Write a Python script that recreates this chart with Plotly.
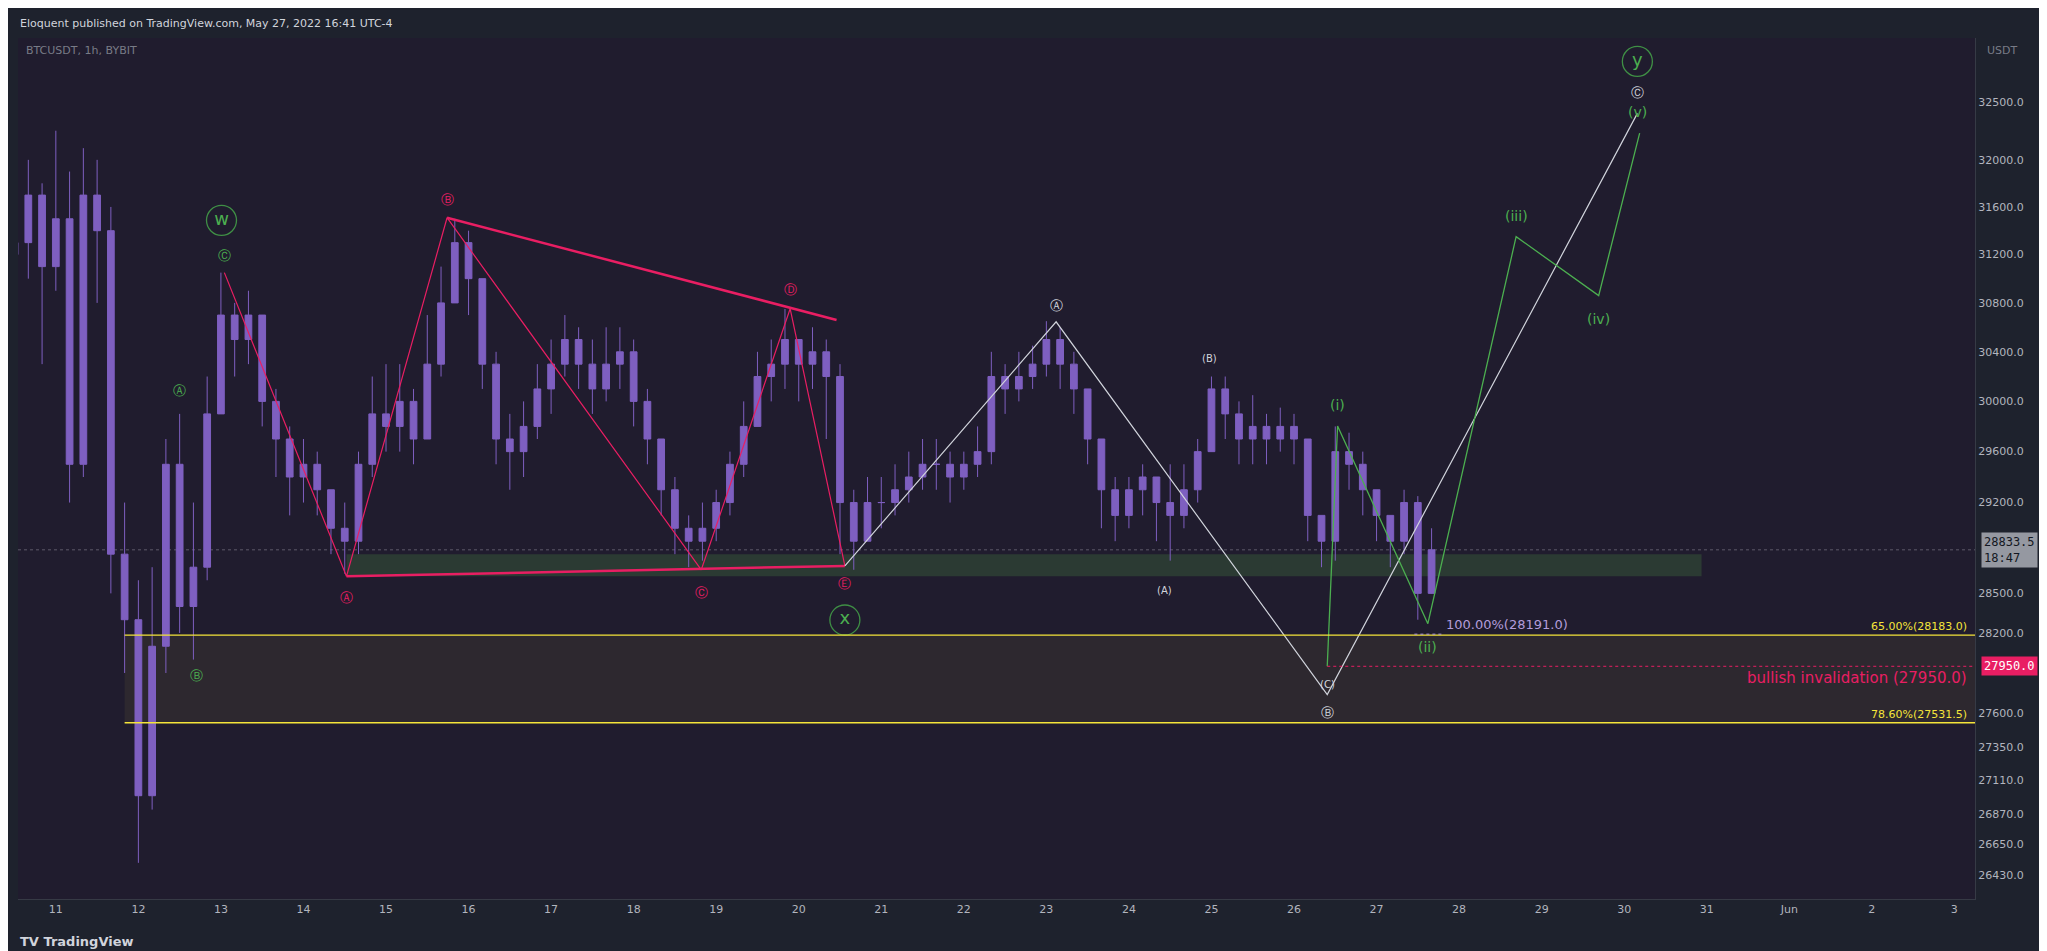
import math

import pandas as pd
import plotly.graph_objects as go

# 4h candles (May 10 12:00 -> May 27 16:00)
START = "2022-05-10 12:00"
closes = [
    31300, 31700, 31100,
    31500, 29500, 31700, 31400, 28800, 28300,
    27000, 28100, 29500, 28400, 28700, 29900,
    30700, 30500, 30700, 30000, 29700, 29400,
    29500, 29300, 29000, 28900, 29500, 29900,
    29800, 30000, 29700, 30300, 30800, 31300,
    31000, 30300, 29700, 29600, 29800, 30100,
    30300, 30500, 30300, 30100, 30300, 30400,
    30000, 29700, 29300, 29000, 28900, 29000,
    29200, 29500, 29800, 30200, 30300, 30500,
    30300, 30400, 30200, 29200, 28900, 29200,
    29200, 29300, 29400, 29500, 29500, 29400,
    29500, 29600, 30200, 30100, 30200, 30300,
    30500, 30300, 30100, 29700, 29300, 29100,
    29300, 29400, 29200, 29100, 29300, 29600,
    30100, 29900, 29700, 29800, 29700, 29800,
    29700, 29100, 28900, 29600, 29500, 29300,
    29100, 28900, 29200, 28500, 28833.5,
]
highs = [
    31900, 32000, 31800,
    32250, 31900, 32100, 32000, 31600, 29200,
    28600, 28700, 29700, 29900, 29200, 30200,
    31050, 30800, 30900, 30700, 30100, 29800,
    29700, 29600, 29300, 29200, 29600, 30200,
    30300, 30300, 30100, 30700, 31100, 31500,
    31400, 31000, 30400, 29900, 30000, 30300,
    30500, 30700, 30600, 30500, 30600, 30600,
    30500, 30100, 29700, 29400, 29100, 29200,
    29300, 29600, 30000, 30400, 30500, 30750,
    30500, 30600, 30500, 30300, 29300, 29400,
    29400, 29500, 29600, 29700, 29700, 29600,
    29600, 29800, 30400, 30300, 30400, 30450,
    30650, 30600, 30400, 30100, 29700, 29400,
    29400, 29500, 29400, 29500, 29500, 29700,
    30200, 30200, 30000, 30050, 29900, 29950,
    29900, 29700, 29100, 29800, 29750, 29600,
    29300, 29100, 29300, 29250, 29000,
]
lows = [
    30900, 31000, 30300,
    30900, 29200, 29400, 30800, 28500, 27900,
    26520, 26900, 27900, 28200, 28000, 28600,
    29900, 30200, 30300, 29800, 29400, 29100,
    29200, 29100, 28800, 28650, 28800, 29400,
    29600, 29600, 29500, 29700, 30200, 30800,
    30700, 30100, 29500, 29300, 29400, 29700,
    29900, 30200, 30100, 29900, 30000, 30100,
    29800, 29500, 29100, 28800, 28700, 28750,
    28900, 29100, 29400, 29800, 30000, 30100,
    30000, 30100, 29700, 28800, 28680, 28900,
    29000, 29100, 29200, 29300, 29300, 29200,
    29300, 29400, 29500, 29900, 30000, 30100,
    30200, 30100, 29900, 29500, 29000, 28900,
    29000, 29100, 28900, 28750, 29000, 29200,
    29600, 29700, 29500, 29500, 29500, 29600,
    29500, 28900, 28700, 28750, 29300, 29100,
    28900, 28700, 28800, 28300, 28800,
]
opens = [31200] + closes[:-1]
times = pd.date_range(START, periods=len(closes), freq="4h")

# wave drawings: (time, price)
pink_zigzag_t = ["2022-05-13 01:00", "2022-05-14 12:30", "2022-05-15 17:45", "2022-05-18 19:40",
                 "2022-05-19 21:30", "2022-05-20 13:25"]
pink_zigzag_p = [31050, 28630, 31509, 28680, 30752, 28710]
pink_upper_t = ["2022-05-15 17:45", "2022-05-20 11:00"]
pink_upper_p = [31509, 30660]
pink_lower_t = ["2022-05-14 12:30", "2022-05-20 13:25"]
pink_lower_p = [28630, 28710]
white_t = ["2022-05-20 13:25", "2022-05-23 02:50", "2022-05-26 09:40", "2022-05-30 03:50"]
white_p = [28710, 30645, 27740, 32400]
green_t = ["2022-05-26 09:40", "2022-05-26 12:40", "2022-05-27 14:55", "2022-05-28 16:35",
           "2022-05-29 16:35", "2022-05-30 04:30"]
green_p = [27950, 29803, 28270, 31350, 30860, 32230]

LAST_PRICE = 28833.5
FIB_65 = 28183.0
FIB_786 = 27531.5
INVALIDATION = 27950.0
ZONE = (28630, 28800)

labels = [
    # text, time, price, color, size
    ("Ⓒ", "2022-05-13 01:00", 31192, "#4caf50", 13),
    ("Ⓐ", "2022-05-12 12:00", 30085, "#4caf50", 13),
    ("Ⓑ", "2022-05-12 17:00", 27878, "#4caf50", 13),
    ("Ⓐ", "2022-05-14 12:30", 28466, "#e91e63", 13),
    ("Ⓑ", "2022-05-15 17:45", 31663, "#e91e63", 13),
    ("Ⓒ", "2022-05-18 19:40", 28505, "#e91e63", 13),
    ("Ⓓ", "2022-05-19 21:30", 30912, "#e91e63", 13),
    ("Ⓔ", "2022-05-20 13:25", 28576, "#e91e63", 13),
    ("Ⓐ", "2022-05-23 02:50", 30775, "#d1d4dc", 13),
    ("(B)", "2022-05-24 23:30", 30347, "#d1d4dc", 10),
    ("(A)", "2022-05-24 10:20", 28525, "#d1d4dc", 10),
    ("(C)", "2022-05-26 09:40", 27818, "#d1d4dc", 10),
    ("Ⓑ", "2022-05-26 09:40", 27605, "#d1d4dc", 13),
    ("Ⓒ", "2022-05-30 03:50", 32578, "#d1d4dc", 13),
    ("(i)", "2022-05-26 12:40", 29969, "#4caf50", 14),
    ("(ii)", "2022-05-27 14:55", 28093, "#4caf50", 14),
    ("(iii)", "2022-05-28 16:35", 31520, "#4caf50", 14),
    ("(iv)", "2022-05-29 16:35", 30665, "#4caf50", 14),
    ("(v)", "2022-05-30 03:50", 32410, "#4caf50", 14),
]
big_t = ["2022-05-13 00:10", "2022-05-20 13:25", "2022-05-30 03:50"]
big_p = [31487, 28298, 32853]
big_text = ["w", "x", "y"]

day_ticks = pd.date_range("2022-05-11", "2022-06-03", freq="D")
day_text = [("Jun" if d.day == 1 else str(d.day)) for d in day_ticks]
price_ticks = [26430, 26650, 26870, 27110, 27350, 27600, 28200, 28500, 29200, 29600,
               30000, 30400, 30800, 31200, 31600, 32000, 32500]

X0, X1 = pd.Timestamp("2022-05-10 13:00"), pd.Timestamp("2022-06-03 06:00")
Y0, Y1 = 26265, 33059

fig = go.Figure()

# zones
fig.add_shape(type="rect", x0="2022-05-14 12:30", x1="2022-05-30 22:30", y0=ZONE[0], y1=ZONE[1],
              fillcolor="#2b3a33", line_width=0, layer="below")
fig.add_shape(type="rect", x0="2022-05-11 20:00", x1=X1, y0=FIB_786, y1=FIB_65,
              fillcolor="#2d282f", line_width=0, layer="below")
for lvl in [FIB_65, FIB_786]:
    fig.add_shape(type="line", x0="2022-05-11 20:00", x1=X1, y0=lvl, y1=lvl,
                  line=dict(color="#f5e53a", width=1.3))
fig.add_shape(type="line", x0=X0, x1=X1, y0=LAST_PRICE, y1=LAST_PRICE,
              line=dict(color="#5d5a6a", width=1, dash="dot"), layer="below")
fig.add_shape(type="line", x0="2022-05-26 09:40", x1=X1, y0=INVALIDATION, y1=INVALIDATION,
              line=dict(color="#e91e63", width=1, dash="dot"))
fig.add_shape(type="line", x0="2022-05-27 11:00", x1="2022-05-27 19:00", y0=28191, y1=28191,
              line=dict(color="#b39ddb", width=1, dash="dot"))

fig.add_trace(go.Candlestick(
    x=times, open=opens, high=highs, low=lows, close=closes,
    increasing=dict(line=dict(color="#7e5fc0", width=1), fillcolor="#7e5fc0"),
    decreasing=dict(line=dict(color="#7e5fc0", width=1), fillcolor="#7e5fc0"),
    whiskerwidth=0, showlegend=False, hoverinfo="skip",
))

fig.add_trace(go.Scatter(x=pink_zigzag_t, y=pink_zigzag_p, mode="lines",
                         line=dict(color="#e91e63", width=1.2), showlegend=False))
fig.add_trace(go.Scatter(x=pink_upper_t, y=pink_upper_p, mode="lines",
                         line=dict(color="#e91e63", width=2.5), showlegend=False))
fig.add_trace(go.Scatter(x=pink_lower_t, y=pink_lower_p, mode="lines",
                         line=dict(color="#e91e63", width=2.5), showlegend=False))
fig.add_trace(go.Scatter(x=white_t, y=white_p, mode="lines",
                         line=dict(color="#d1d4dc", width=1.2), showlegend=False))
fig.add_trace(go.Scatter(x=green_t, y=green_p, mode="lines",
                         line=dict(color="#4caf50", width=1.3), showlegend=False))
fig.add_trace(go.Scatter(x=big_t, y=big_p, mode="markers+text", text=big_text,
                         textfont=dict(color="#4caf50", size=18, family="DejaVu Sans"),
                         marker=dict(symbol="circle-open", size=30, color="#3f8f45", line=dict(width=1.3)),
                         showlegend=False))

for txt, t, p, col, sz in labels:
    fig.add_annotation(x=t, y=math.log10(p), text=txt, showarrow=False,
                       font=dict(color=col, size=sz, family="DejaVu Sans"))

fig.add_annotation(x="2022-05-27 19:30", y=math.log10(28191), text="100.00%(28191.0)", showarrow=False,
                   xanchor="left", yanchor="bottom", font=dict(color="#b39ddb", size=13, family="DejaVu Sans"))
fig.add_annotation(xref="paper", x=0.997, y=math.log10(FIB_65), text="65.00%(28183.0)", showarrow=False,
                   xanchor="right", yanchor="bottom", font=dict(color="#f5e53a", size=11, family="DejaVu Sans"))
fig.add_annotation(xref="paper", x=0.997, y=math.log10(FIB_786), text="78.60%(27531.5)", showarrow=False,
                   xanchor="right", yanchor="bottom", font=dict(color="#f5e53a", size=11, family="DejaVu Sans"))
fig.add_annotation(xref="paper", x=0.997, y=math.log10(27860), text="bullish invalidation (27950.0)",
                   showarrow=False, xanchor="right",
                   font=dict(color="#e91e63", size=15, family="DejaVu Sans"))
fig.add_annotation(xref="paper", x=1.003, y=math.log10(LAST_PRICE), text="28833.5<br>18:47", showarrow=False,
                   xanchor="left", align="left", bgcolor="#9598a1", borderpad=2,
                   font=dict(color="#131722", size=12, family="DejaVu Sans Mono"))
fig.add_annotation(xref="paper", x=1.003, y=math.log10(INVALIDATION), text="27950.0", showarrow=False,
                   xanchor="left", bgcolor="#e91e63", borderpad=2,
                   font=dict(color="white", size=12, family="DejaVu Sans Mono"))
fig.add_annotation(xref="paper", yref="paper", x=0.003, y=0.995, text="BTCUSDT, 1h, BYBIT", showarrow=False,
                   xanchor="left", yanchor="top", font=dict(color="#787b86", size=11, family="DejaVu Sans"))
fig.add_annotation(xref="paper", yref="paper", x=1.005, y=0.995, text="USDT", showarrow=False,
                   xanchor="left", yanchor="top", font=dict(color="#787b86", size=11, family="DejaVu Sans"))
fig.add_annotation(xref="paper", yref="paper", x=0, y=1, yshift=6,
                   text="Eloquent published on TradingView.com, May 27, 2022 16:41 UTC-4", showarrow=False,
                   xanchor="left", yanchor="bottom", font=dict(color="#d1d4dc", size=11, family="DejaVu Sans"))
fig.add_annotation(xref="paper", yref="paper", x=0, y=0, yshift=-42, text="<b>TV TradingView</b>", showarrow=False,
                   xanchor="left", yanchor="middle", font=dict(color="#d1d4dc", size=13, family="DejaVu Sans"))

fig.update_layout(
    width=2047,
    height=951,
    paper_bgcolor="#1e222d",
    plot_bgcolor="#201c2e",
    margin=dict(l=10, r=80, t=30, b=60),
    xaxis=dict(range=[X0, X1], tickvals=day_ticks, ticktext=day_text, showgrid=False, zeroline=False,
               rangeslider=dict(visible=False), tickfont=dict(color="#b2b5be", size=11),
               showline=True, linecolor="#363a45", ticks=""),
    yaxis=dict(type="log", range=[math.log10(Y0), math.log10(Y1)], side="right", tickvals=price_ticks,
               ticktext=[f"{v:.1f}" for v in price_ticks], showgrid=False, zeroline=False,
               tickfont=dict(color="#b2b5be", size=11), showline=True, linecolor="#363a45", ticks=""),
    font=dict(family="DejaVu Sans"),
)

fig.write_html("out.html")
